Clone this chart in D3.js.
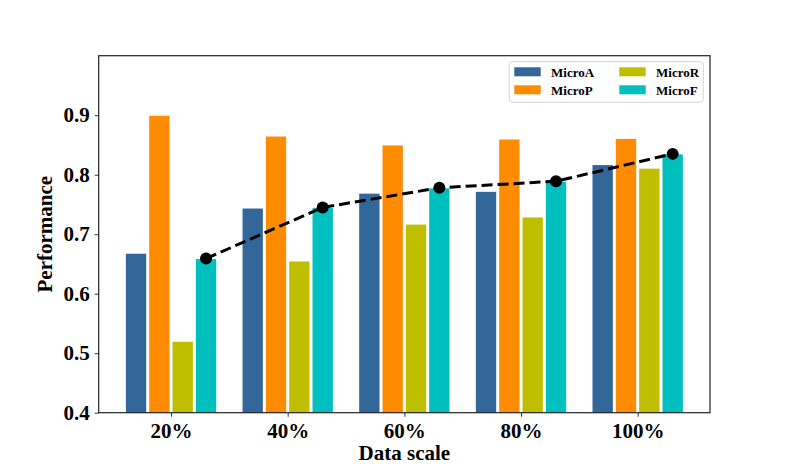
<!DOCTYPE html>
<html>
<head>
<meta charset="utf-8">
<script src="https://cdn.jsdelivr.net/npm/d3@7"></script>
<style>
  body { margin: 0; background: #fff; }
  svg { display: block; font-family: "Liberation Serif", "Times New Roman", serif; font-weight: bold; }
</style>
</head>
<body>
<svg width="789" height="464"></svg>
<script>
const categories = ["20%", "40%", "60%", "80%", "100%"];
const seriesNames = ["MicroA", "MicroP", "MicroR", "MicroF"];
const microA = [0.668, 0.744, 0.769, 0.772, 0.817];
const microP = [0.900, 0.865, 0.850, 0.860, 0.861];
const microR = [0.520, 0.655, 0.717, 0.729, 0.811];
const microF = [0.659, 0.745, 0.778, 0.789, 0.835];
const yTicks = [0.4, 0.5, 0.6, 0.7, 0.8, 0.9];
const colors = ["#336699", "#ff8c00", "#bfbf00", "#00bfbf"];

const series = [microA, microP, microR, microF];
const barW = 0.2;
const serif = '"Liberation Serif", "Times New Roman", serif';

const svg = d3.select("svg");
const plotL = 98.7, plotR = 710, plotT = 55.7, plotB = 412.7;

const x = d3.scaleLinear().domain([-0.62, 4.62]).range([plotL, plotR]);
const y = d3.scaleLinear().domain([0.4, 1.0]).range([plotB, plotT]);

// bars
series.forEach((vals, s) => {
    const off = (s - 1.5) * barW;
    svg.append("g").selectAll("rect")
        .data(vals)
        .join("rect")
        .attr("x", (d, i) => x(i + off - barW / 2) + 1.5)
        .attr("width", x(barW) - x(0) - 3)
        .attr("y", d => y(d) + 0.5)
        .attr("height", d => y(0.4) - y(d) - 0.5)
        .attr("fill", colors[s]);
});

// dashed line over MicroF
const lineOff = 1.5 * barW;
const line = d3.line()
    .x((d, i) => x(i + lineOff))
    .y(d => y(d));
svg.append("path")
    .datum(microF)
    .attr("d", line)
    .attr("fill", "none")
    .attr("stroke", "black")
    .attr("stroke-width", 3)
    .attr("stroke-dasharray", "11,5");
svg.append("g").selectAll("circle")
    .data(microF)
    .join("circle")
    .attr("cx", (d, i) => x(i + lineOff))
    .attr("cy", d => y(d))
    .attr("r", 6)
    .attr("fill", "black");

// axes
const xAxis = d3.axisBottom(x)
    .tickValues(d3.range(categories.length))
    .tickFormat(i => categories[i])
    .tickSizeOuter(0)
    .tickSize(4)
    .tickPadding(6);
const gx = svg.append("g")
    .attr("transform", `translate(0,${plotB})`)
    .call(xAxis)
    .attr("font-family", serif);
gx.select(".domain").remove();
gx.selectAll("text").attr("font-size", 21).attr("fill", "#000");
gx.selectAll("line").attr("stroke", "#333");

const yAxis = d3.axisLeft(y)
    .tickValues(yTicks)
    .tickFormat(d3.format(".1f"))
    .tickSizeOuter(0)
    .tickSize(4)
    .tickPadding(5);
const gy = svg.append("g")
    .attr("transform", `translate(${plotL},0)`)
    .call(yAxis)
    .attr("font-family", serif);
gy.select(".domain").remove();
gy.selectAll("text").attr("font-size", 21).attr("fill", "#000");
gy.selectAll("line").attr("stroke", "#333");

// frame
svg.append("rect")
    .attr("x", plotL).attr("y", plotT)
    .attr("width", plotR - plotL).attr("height", plotB - plotT)
    .attr("fill", "none")
    .attr("stroke", "#222")
    .attr("stroke-width", 1.2);

// axis labels
svg.append("text")
    .attr("x", (plotL + plotR) / 2)
    .attr("y", 460)
    .attr("text-anchor", "middle")
    .attr("font-size", 21)
    .text("Data scale");
svg.append("text")
    .attr("transform", `translate(52,${(plotT + plotB) / 2}) rotate(-90)`)
    .attr("text-anchor", "middle")
    .attr("font-size", 21)
    .text("Performance");

// legend
const lg = svg.append("g");
lg.append("rect")
    .attr("x", 509.3).attr("y", 61.7)
    .attr("width", 194).attr("height", 40.6)
    .attr("rx", 3)
    .attr("fill", "white")
    .attr("stroke", "#d4d4d4");
seriesNames.forEach((name, s) => {
    const col = Math.floor(s / 2), row = s % 2;
    const lx = 514.3 + col * 105, ly = 67.3 + row * 18;
    lg.append("rect")
        .attr("x", lx).attr("y", ly)
        .attr("width", 26.4).attr("height", 9)
        .attr("fill", colors[s]);
    lg.append("text")
        .attr("x", lx + 36.7)
        .attr("y", ly + 10)
        .attr("font-size", 13)
        .text(name);
});
</script>
</body>
</html>
